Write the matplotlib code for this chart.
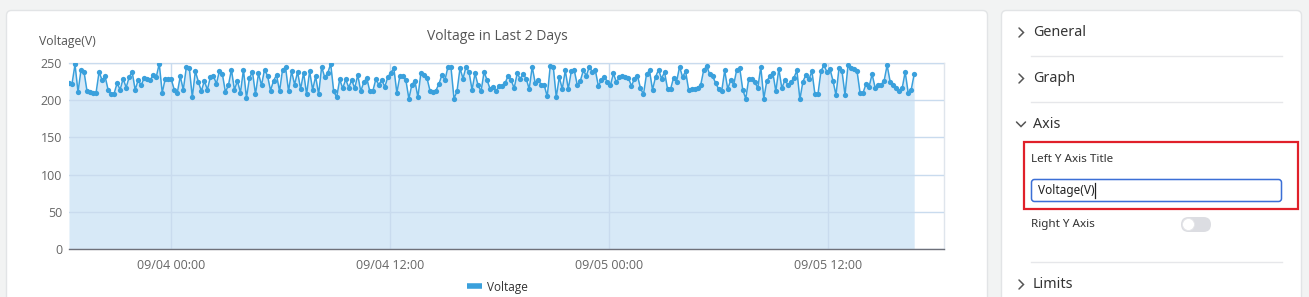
import matplotlib
matplotlib.use("Agg")
import matplotlib.pyplot as plt
import matplotlib.dates as mdates
from matplotlib.patches import FancyBboxPatch, Rectangle, Circle
from matplotlib.lines import Line2D
import pandas as pd

# voltage readings, ~10 min apart
voltage = [
    223, 222, 248, 211, 241, 238, 212, 211, 210, 210, 238, 227, 232, 214, 208, 209,
    223, 214, 229, 217, 231, 238, 214, 227, 220, 230, 229, 227, 234, 231, 249, 210,
    229, 228, 228, 214, 210, 232, 214, 244, 243, 204, 239, 225, 212, 226, 214, 231,
    233, 222, 239, 235, 211, 220, 241, 214, 226, 210, 241, 203, 230, 238, 208, 236,
    220, 241, 233, 213, 226, 234, 212, 241, 244, 212, 239, 221, 238, 215, 237, 208,
    239, 214, 232, 208, 245, 231, 236, 249, 212, 204, 228, 216, 228, 217, 227, 216,
    234, 212, 224, 230, 212, 212, 228, 221, 227, 218, 231, 237, 243, 210, 232, 232,
    227, 202, 221, 226, 204, 237, 234, 230, 213, 211, 213, 222, 234, 227, 245, 244,
    202, 212, 243, 229, 245, 238, 214, 236, 220, 212, 238, 227, 215, 218, 212, 219,
    219, 223, 233, 227, 216, 236, 229, 235, 229, 215, 245, 223, 227, 221, 220, 205,
    246, 245, 204, 231, 215, 240, 215, 239, 240, 220, 226, 240, 233, 245, 238, 240,
    219, 227, 231, 225, 220, 236, 224, 231, 232, 231, 230, 219, 229, 233, 216, 208,
    235, 240, 214, 231, 241, 229, 238, 215, 215, 230, 225, 245, 231, 239, 214, 215,
    215, 217, 220, 240, 246, 235, 232, 223, 215, 212, 240, 215, 227, 221, 241, 243,
    214, 202, 229, 228, 225, 216, 245, 202, 226, 232, 237, 212, 242, 216, 227, 221,
    224, 230, 240, 201, 225, 234, 228, 239, 208, 208, 239, 247, 238, 242, 226, 207,
    243, 239, 207, 247, 243, 242, 239, 210, 210, 222, 218, 235, 217, 221, 221, 226,
    247, 225, 220, 216, 213, 216, 238, 210, 214, 235,
]
x_start = pd.Timestamp("2023-09-03 18:23")
x_end = pd.Timestamp("2023-09-05 18:23")
times = pd.date_range(x_start, periods=len(voltage), freq="594s")
y_ticks = [0, 50, 100, 150, 200, 250]

W, H = 1309, 297
fig = plt.figure(figsize=(W / 100, H / 100), dpi=100)
fig.patch.set_facecolor("#f2f3f3")

# background / UI layer in pixel coordinates
bg = fig.add_axes([0, 0, 1, 1], zorder=0)
bg.set_xlim(0, W)
bg.set_ylim(H, 0)
bg.axis("off")

chart_font = ["Open Sans", "DejaVu Sans"]
panel_font = ["Noto Sans", "DejaVu Sans"]

# cards
bg.add_patch(FancyBboxPatch((6.5, 10.5), 981, 310, boxstyle="round,pad=0,rounding_size=5",
                            fc="white", ec="#e2e4e6", lw=1))
bg.add_patch(FancyBboxPatch((1001.5, 10.5), 300, 310, boxstyle="round,pad=0,rounding_size=5",
                            fc="white", ec="#e2e4e6", lw=1))

# chart texts
bg.text(497, 36, "Voltage in Last 2 Days", ha="center", va="center", fontsize=10,
        color="#555555", family=chart_font)
bg.text(39, 41, "Voltage(V)", ha="left", va="center", fontsize=8.8,
        color="#555555", family=chart_font)

# settings panel
def chevron_right(x, y):
    bg.plot([x, x + 4.5, x], [y - 4.5, y, y + 4.5], color="#555555", lw=1.1,
            solid_capstyle="round", solid_joinstyle="miter")

def chevron_down(x, y):
    bg.plot([x - 4.5, x, x + 4.5], [y - 2.5, y + 2, y - 2.5], color="#555555", lw=1.1,
            solid_capstyle="round", solid_joinstyle="miter")

sections = [("General", 32.5, "r"), ("Graph", 78.5, "r"), ("Axis", 124.5, "d"), ("Limits", 284.5, "r")]
for name, y, kind in sections:
    if kind == "r":
        chevron_right(1019, y)
    else:
        chevron_down(1021, y)
    bg.text(1033, y, name, ha="left", va="center", fontsize=10.3, color="#333333", family=panel_font)

for y in [55.5, 101.5, 261.5]:
    bg.plot([1031, 1282], [y, y], color="#e6e7ea", lw=1)

bg.add_patch(Rectangle((1023.5, 142), 274, 66.5, fill=False, ec="#e0202a", lw=1.6))
bg.text(1031, 159, "Left Y Axis Title", ha="left", va="center", fontsize=8.4,
        color="#333333", family=panel_font)
bg.add_patch(FancyBboxPatch((1031.5, 179.5), 250, 22, boxstyle="round,pad=0,rounding_size=3",
                            fc="white", ec="#3b6fd6", lw=1.1))
bg.text(1038, 190.5, "Voltage(V)", ha="left", va="center", fontsize=8.5,
        color="#222222", family=panel_font)
bg.plot([1095, 1095], [183, 198], color="#222222", lw=0.9)
bg.text(1031, 224, "Right Y Axis", ha="left", va="center", fontsize=8.4,
        color="#333333", family=panel_font)
bg.add_patch(FancyBboxPatch((1181, 217), 30, 15, boxstyle="round,pad=0,rounding_size=7.5",
                            fc="#dcdde2", ec="none"))
bg.add_patch(Circle((1188.5, 224.5), 6, fc="white", ec="#e4e5e8", lw=0.6))

# chart axes
ax_l, ax_r, ax_t, ax_b = 69, 944, 63, 249
ax = fig.add_axes([ax_l / W, (H - ax_b) / H, (ax_r - ax_l) / W, (ax_b - ax_t) / H], zorder=2)
ax.set_facecolor("white")
line_c = "#3aa0dc"
ax.fill_between(times, voltage, 0, color="#d7e9f7", lw=0, zorder=1)
ax.plot(times, voltage, color=line_c, lw=1.1, marker="o", markersize=3.8,
        markeredgewidth=0, zorder=3)

ax.set_xlim(x_start, x_end)
ax.set_ylim(0, 250)
ax.set_yticks(y_ticks)
ax.xaxis.set_major_locator(mdates.HourLocator(byhour=[0, 12]))
ax.xaxis.set_major_formatter(mdates.DateFormatter("%m/%d %H:%M"))
ax.grid(True, color="#c9dbee", lw=1, zorder=2)
ax.set_axisbelow(False)
for s in ["top", "right"]:
    ax.spines[s].set_color("#dfe5ec")
    ax.spines[s].set_linewidth(1)
ax.spines["left"].set_visible(False)
ax.spines["bottom"].set_color("#6e7079")
ax.spines["bottom"].set_linewidth(1)
ax.spines["bottom"].set_zorder(4)
ax.tick_params(axis="both", length=0, labelsize=9, labelcolor="#666666")
ax.tick_params(axis="x", pad=7)
ax.tick_params(axis="y", pad=5)
for lab in ax.get_xticklabels() + ax.get_yticklabels():
    lab.set_family(chart_font)

ax.legend([Line2D([0], [0], color=line_c, lw=4, solid_capstyle="butt")], ["Voltage"],
          loc="center", bbox_to_anchor=(497 / W, (H - 287) / H), bbox_transform=fig.transFigure,
          frameon=False, handlelength=1.3, handletextpad=0.4,
          prop={"family": chart_font, "size": 8.5}, labelcolor="#333333")

fig.savefig("out.png", dpi=100, facecolor=fig.get_facecolor())
